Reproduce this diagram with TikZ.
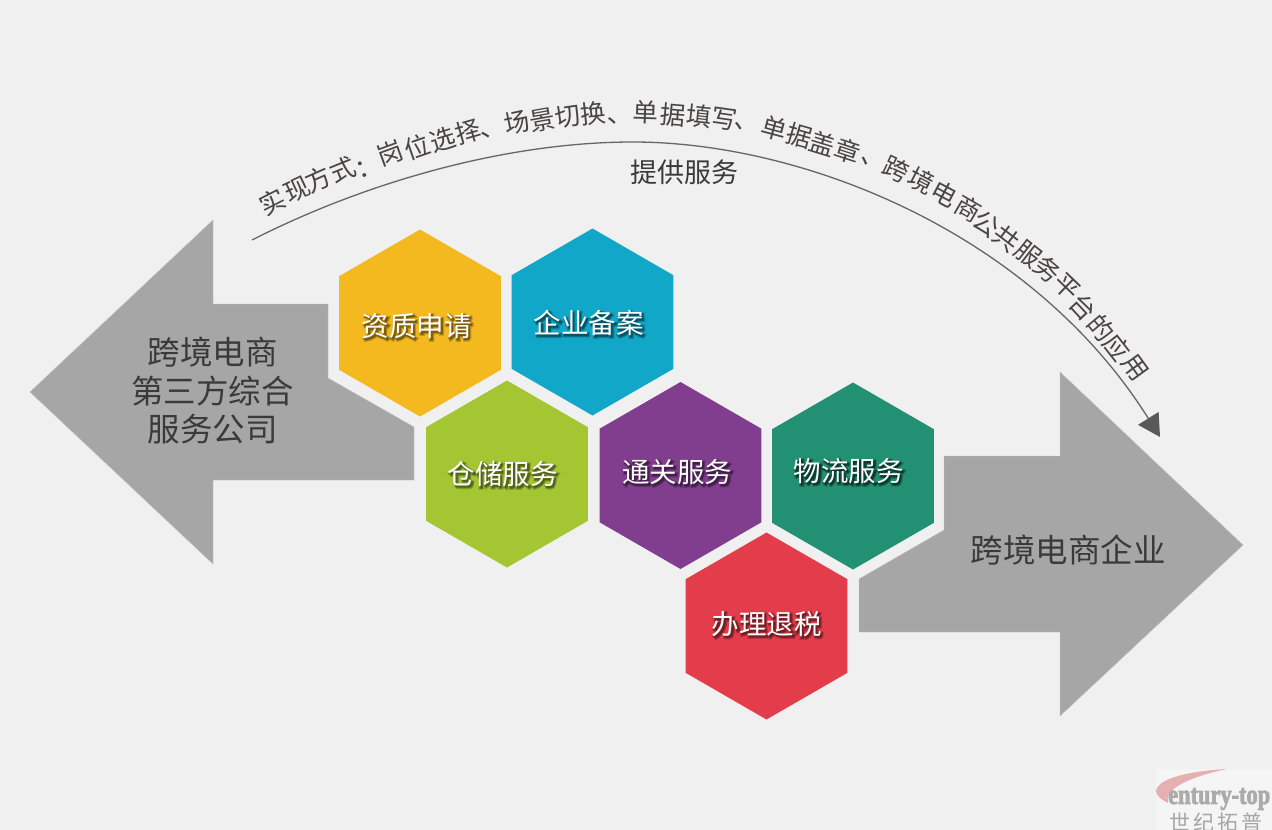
\documentclass[tikz,border=0pt]{standalone}
\usepackage{fontspec}
\setmainfont{Noto Sans CJK SC}
\newfontfamily\logofont[FakeBold=3]{Liberation Serif Bold}
\newfontfamily\softwide[FakeBold=12]{Noto Sans CJK SC}
\newfontfamily\softnarrow[FakeBold=5]{Noto Sans CJK SC}
\usetikzlibrary{shapes.geometric,arrows.meta}
\definecolor{bgc}{HTML}{F0F0F0}
\definecolor{arrowgray}{HTML}{A6A6A6}
\definecolor{darktext}{HTML}{3A3A3A}
\definecolor{curvetext}{HTML}{4A4444}
\definecolor{tipgray}{HTML}{595959}
\definecolor{hYellow}{HTML}{F3B91E}
\definecolor{hBlue}{HTML}{10A7C8}
\definecolor{hLime}{HTML}{A5C633}
\definecolor{hPurple}{HTML}{823E8E}
\definecolor{hGreen}{HTML}{229072}
\definecolor{hRed}{HTML}{E33C4A}
\definecolor{logopink}{HTML}{E6B0B0}
\tikzset{
  x=1pt,y=-1pt,
  hexa/.style={regular polygon,regular polygon sides=6,shape border rotate=30,minimum size=187pt,inner sep=0pt,draw=none},
  bigarrow/.style={fill=arrowgray,draw=arrowgray!70!white,line width=.4pt,line join=miter},
  arrowlabel/.style={font=\fontsize{32.5}{38.5}\selectfont,text=darktext,align=center,inner sep=0pt},
  hexlabel/.style={font=\fontsize{27.5}{33}\selectfont,text=white,inner sep=0pt},
  curvechar/.style={font=\fontsize{25.5}{30}\selectfont,text=curvetext,inner sep=0pt},
  sublabel/.style={font=\fontsize{27}{32}\selectfont,text=darktext,inner sep=0pt},
  curveline/.style={draw=black!60,line width=1.3pt,-{Triangle[length=22pt,width=24pt,color=tipgray]}},
}
% one copy of the text, widened and see-through, put under the text itself
% #1 font, #2 dx, #3 dy, #4 colour, #5 opacity, #6 text
\newcommand{\softcopy}[6]{%
  \pgfsetfillopacity{#5}\pgfsetstrokeopacity{#5}%
  \rlap{\kern#2pt\smash{\raisebox{-#3pt}{\fontsize{27.5}{33}#1\selectfont\color{#4}#6}}}%
  \pgfsetfillopacity{1}\pgfsetstrokeopacity{1}}
\newcommand{\shadowed}[2]{\softcopy{\softwide}{1.5}{1.5}{#1}{.35}{#2}\softcopy{\softnarrow}{1.5}{1.5}{#1}{.55}{#2}#2}
\begin{document}
\begin{tikzpicture}
\useasboundingbox (0,0) rectangle (1272,830);
\fill[bgc] (0,0) rectangle (1272,830);

% big arrows
\draw[bigarrow] (30,392)--(213,220)--(213,304)--(328,304)--(328,378)--(414,427)--(414,480)--(213,480)--(213,564)--cycle;
\draw[bigarrow] (1243,545)--(1060,372)--(1060,456)--(944,456)--(944,530)--(859,579)--(859,632)--(1060,632)--(1060,716)--cycle;
\node[arrowlabel] (leftlabel) at (212.5,391) {跨境电商\\第三方综合\\服务公司};
\node[arrowlabel] (rightlabel) at (1068,550) {跨境电商企业};

% hexagons
\node[hexa,fill=hYellow] (h1) at (420,323) {};
\node[hexa,fill=hBlue]   (h2) at (592.5,322) {};
\node[hexa,fill=hLime]   (h3) at (507,474) {};
\node[hexa,fill=hPurple] (h4) at (680.5,475.5) {};
\node[hexa,fill=hGreen]  (h5) at (853,476) {};
\node[hexa,fill=hRed]    (h6) at (766.5,626) {};
\node[hexlabel] (t1) at (416.5,326) {\shadowed{hYellow!45!black}{资质申请}};
\node[hexlabel] (t2) at (588.5,323) {\shadowed{hBlue!45!black}{企业备案}};
\node[hexlabel] (t3) at (502.5,474) {\shadowed{hLime!45!black}{仓储服务}};
\node[hexlabel] (t4) at (677,472) {\shadowed{hPurple!45!black}{通关服务}};
\node[hexlabel] (t5) at (848.5,471) {\shadowed{hGreen!35!black}{物流服务}};
\node[hexlabel] (t6) at (766.5,624) {\shadowed{hRed!45!black}{办理退税}};

% curved connector
\coordinate (cstart) at (252,240);
\coordinate (cpeak) at (633,142);
\coordinate (cend) at (1160,437);
\draw[curveline] (cstart) .. controls (370,180) and (510,142) .. (cpeak)
  .. controls (800,142) and (1030,230) .. (cend);

% text following the curve
\foreach \px/\py/\rot/\ch [count=\k] in {
 272/202/27/实,297/190/25/现,318/179/24/方,343/170/22/式,369/167/21/\symbol{65306},
 390/153/20/岗,417/147/19/位,443/140/17/选,468/132/16/择,493/133/15/\symbol{12289},
 517/123/12/场,542/120/10/景,568/117/8/切,593/114/6/换,620/120/5/\symbol{12289},
 646/112/-2/单,673/114.5/-5/据,699/116.5/-6/填,724/119/-8/写,746/127/-9/\symbol{12289},
 774/128/-15/单,799/136/-16/据,823/144/-17/盖,848/151/-18/章,872/164/-19/\symbol{12289},
 896/169/-25/跨,921/181/-27/境,944/194/-28/电,968/208/-30/商,
 986/224/-35/公,1006/239/-37/共,1028/254/-38/服,1048/269/-40/务,
 1067/287/-44/平,1083/307/-47/台,1101/328/-50/的,1117/348/-52/应,1135/368/-54/用}{
  \node[curvechar,rotate=\rot] (c\k) at (\px,\py) {\ch};
}
\node[sublabel] (sub) at (684,172.5) {提供服务};

% logo
\fill[white,opacity=.35] (1156,769) rectangle (1272,830);
\fill[logopink] (1227,769) .. controls (1190,771) and (1158,778) .. (1156,791)
  .. controls (1156,796) and (1162,800) .. (1168,803)
  .. controls (1164,790) and (1185,778) .. cycle;
\node[inner sep=0pt,text=black!33,font=\logofont\fontsize{28}{30}\selectfont,anchor=west,xscale=.8] (logo1) at (1168,799) {entury-top};
\node[inner sep=0pt,text=black!35,font=\fontsize{21}{24}\selectfont,anchor=west] (logo2) at (1169,822) {世\hspace{3pt}纪\hspace{3pt}拓\hspace{3pt}普};
\end{tikzpicture}
\end{document}
